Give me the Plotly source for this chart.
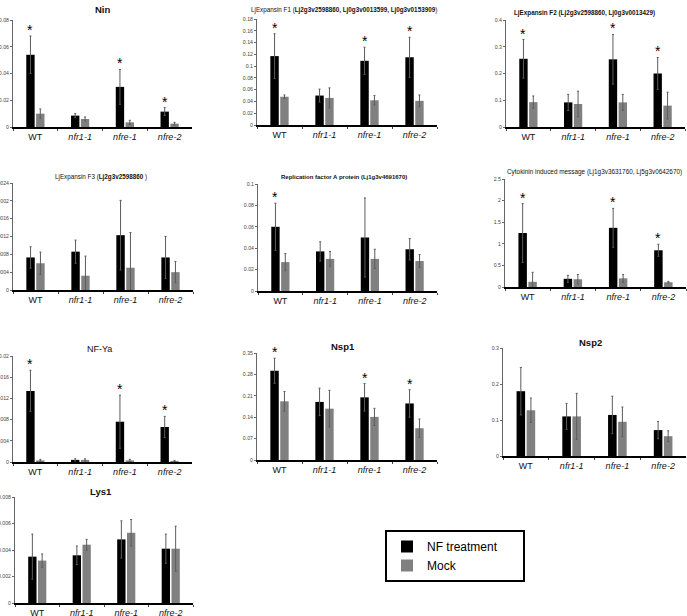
import plotly.graph_objects as go

W, H = 687, 616

categories = ["WT", "nfr1-1", "nfre-1", "nfre-2"]
cat_labels = ["WT", "<i>nfr1-1</i>", "<i>nfre-1</i>", "<i>nfre-2</i>"]

# ---- data (mean, error) per gene ----
nin_nf = [0.054, 0.0085, 0.030, 0.0115]
nin_nf_err = [0.014, 0.0015, 0.013, 0.003]
nin_mock = [0.010, 0.006, 0.0035, 0.0025]
nin_mock_err = [0.0035, 0.0015, 0.0015, 0.001]
nin_star = [1, 0, 1, 1]

f1_nf = [0.117, 0.050, 0.109, 0.115]
f1_nf_err = [0.038, 0.011, 0.023, 0.034]
f1_mock = [0.048, 0.046, 0.042, 0.041]
f1_mock_err = [0.003, 0.017, 0.008, 0.010]
f1_star = [1, 0, 1, 1]

f2_nf = [0.255, 0.092, 0.253, 0.200]
f2_nf_err = [0.072, 0.030, 0.093, 0.060]
f2_mock = [0.093, 0.086, 0.092, 0.080]
f2_mock_err = [0.023, 0.048, 0.030, 0.050]
f2_star = [1, 0, 1, 1]

f3_nf = [0.00073, 0.00086, 0.00123, 0.00073]
f3_nf_err = [0.00024, 0.00026, 0.00078, 0.00047]
f3_mock = [0.00060, 0.00032, 0.00050, 0.00040]
f3_mock_err = [0.00025, 0.00044, 0.00079, 0.00024]
f3_star = [0, 0, 0, 0]

rfa_nf = [0.060, 0.037, 0.050, 0.039]
rfa_nf_err = [0.022, 0.009, 0.037, 0.010]
rfa_mock = [0.027, 0.030, 0.030, 0.028]
rfa_mock_err = [0.008, 0.007, 0.009, 0.006]
rfa_star = [1, 0, 0, 0]

cyt_nf = [1.25, 0.19, 1.37, 0.85]
cyt_nf_err = [0.68, 0.08, 0.45, 0.14]
cyt_mock = [0.12, 0.18, 0.20, 0.11]
cyt_mock_err = [0.22, 0.11, 0.09, 0.02]
cyt_star = [1, 0, 1, 1]

nfya_nf = [0.0134, 0.0004, 0.0076, 0.0066]
nfya_nf_err = [0.0039, 0.0002, 0.0050, 0.0020]
nfya_mock = [0.0003, 0.0004, 0.0003, 0.0002]
nfya_mock_err = [0.0002, 0.0002, 0.0002, 0.0001]
nfya_star = [1, 0, 1, 1]

nsp1_nf = [0.292, 0.190, 0.205, 0.185]
nsp1_nf_err = [0.041, 0.045, 0.045, 0.045]
nsp1_mock = [0.192, 0.168, 0.141, 0.104]
nsp1_mock_err = [0.032, 0.060, 0.028, 0.030]
nsp1_star = [1, 0, 1, 1]

nsp2_nf = [0.180, 0.110, 0.114, 0.072]
nsp2_nf_err = [0.066, 0.036, 0.052, 0.024]
nsp2_mock = [0.127, 0.110, 0.095, 0.055]
nsp2_mock_err = [0.034, 0.064, 0.041, 0.015]
nsp2_star = [0, 0, 0, 0]

lys1_nf = [0.0035, 0.0036, 0.0048, 0.0041]
lys1_nf_err = [0.0017, 0.0007, 0.0014, 0.0011]
lys1_mock = [0.0032, 0.0044, 0.0053, 0.0041]
lys1_mock_err = [0.0005, 0.0004, 0.0010, 0.0017]
lys1_star = [0, 0, 0, 0]

# tick labels per panel
nin_ticks = ["0", "0.02", "0.04", "0.06", "0.08"]
f1_ticks = ["0", "0.02", "0.04", "0.06", "0.08", "0.1", "0.12", "0.14", "0.16", "0.18"]
f2_ticks = ["0", "0.1", "0.2", "0.3", "0.4"]
f3_ticks = ["0", "0.0004", "0.0008", "0.0012", "0.0016", "0.002", "0.0024"]
rfa_ticks = ["0", "0.02", "0.04", "0.06", "0.08", "0.1"]
cyt_ticks = ["0", "0.5", "1", "1.5", "2", "2.5"]
nfya_ticks = ["0", "0.004", "0.008", "0.012", "0.016", "0.02"]
nsp1_ticks = ["0", "0.07", "0.14", "0.21", "0.28", "0.35"]
nsp2_ticks = ["0", "0.1", "0.2", "0.3"]
lys1_ticks = ["0", "0.002", "0.004", "0.006", "0.008"]

series_names = ["NF treatment", "Mock"]

# panel layout: (x0, x1, ytop, ybase) in pixels, title, title center px, title size
panels = [
    dict(nf=nin_nf, nfe=nin_nf_err, mk=nin_mock, mke=nin_mock_err, star=nin_star, ticks=nin_ticks,
         box=(13, 192, 20, 127), title="<b>Nin</b>", tpos=(103, 9), tsize=9.5),
    dict(nf=f1_nf, nfe=f1_nf_err, mk=f1_mock, mke=f1_mock_err, star=f1_star, ticks=f1_ticks,
         box=(257, 437, 19, 125),
         title="LjExpansin F1 (<b>Lj2g3v2598860, Lj0g3v0013599, Lj0g3v0153909</b>)",
         tpos=(344, 10), tsize=6.3),
    dict(nf=f2_nf, nfe=f2_nf_err, mk=f2_mock, mke=f2_mock_err, star=f2_star, ticks=f2_ticks,
         box=(506, 685, 20, 127), title="<b>LjExpansin F2 (Lj2g3v2598860, Lj0g3v0013429)</b>",
         tpos=(584, 13), tsize=6.3),
    dict(nf=f3_nf, nfe=f3_nf_err, mk=f3_mock, mke=f3_mock_err, star=f3_star, ticks=f3_ticks,
         box=(13, 193, 183, 290), title="LjExpansin F3 (<b>Lj2g3v2598860</b> )",
         tpos=(101, 177), tsize=6.3),
    dict(nf=rfa_nf, nfe=rfa_nf_err, mk=rfa_mock, mke=rfa_mock_err, star=rfa_star, ticks=rfa_ticks,
         box=(258, 437, 184, 291), title="<b>Replication factor A protein (Lj1g3v4691670)</b>",
         tpos=(344, 177), tsize=6.0),
    dict(nf=cyt_nf, nfe=cyt_nf_err, mk=cyt_mock, mke=cyt_mock_err, star=cyt_star, ticks=cyt_ticks,
         box=(505, 686, 179, 287),
         title="Cytokinin induced message (Lj1g3v3631760, Lj5g3v0642670)",
         tpos=(594, 172), tsize=6.4),
    dict(nf=nfya_nf, nfe=nfya_nf_err, mk=nfya_mock, mke=nfya_mock_err, star=nfya_star, ticks=nfya_ticks,
         box=(13, 192, 356, 462), title="NF-Ya", tpos=(100, 349), tsize=9),
    dict(nf=nsp1_nf, nfe=nsp1_nf_err, mk=nsp1_mock, mke=nsp1_mock_err, star=nsp1_star, ticks=nsp1_ticks,
         box=(257, 437, 353, 460), title="<b>Nsp1</b>", tpos=(343, 346), tsize=9.5),
    dict(nf=nsp2_nf, nfe=nsp2_nf_err, mk=nsp2_mock, mke=nsp2_mock_err, star=nsp2_star, ticks=nsp2_ticks,
         box=(503, 686, 348, 456), title="<b>Nsp2</b>", tpos=(590, 342), tsize=9.5),
    dict(nf=lys1_nf, nfe=lys1_nf_err, mk=lys1_mock, mke=lys1_mock_err, star=lys1_star, ticks=lys1_ticks,
         box=(15, 193, 497, 603), title="<b>Lys1</b>", tpos=(101, 491), tsize=9.5),
]

FONT = "Liberation Sans, Arial, sans-serif"
BLACK = "#000000"
GRAY = "#808080"
ERR = "#5c5c5c"

BARGAP = 0.56
fig = go.Figure()
annotations = []

for i, p in enumerate(panels):
    n = "" if i == 0 else str(i + 1)
    xa, ya = "x" + n, "y" + n
    x0, x1, yt, yb = p["box"]
    tickvals = [float(t) for t in p["ticks"]]
    ymax = tickvals[-1]

    fig.add_trace(go.Bar(
        x=categories, y=p["nf"], name=series_names[0] + "\u00a0" * 6, xaxis=xa, yaxis=ya,
        marker=dict(color=BLACK, line=dict(width=0)),
        error_y=dict(type="data", array=p["nfe"], color=ERR, thickness=1, width=1),
        showlegend=(i == 0), legendgroup="nf"))
    fig.add_trace(go.Bar(
        x=categories, y=p["mk"], name=series_names[1], xaxis=xa, yaxis=ya,
        marker=dict(color=GRAY, line=dict(width=0)),
        error_y=dict(type="data", array=p["mke"], color=ERR, thickness=1, width=1),
        showlegend=(i == 0), legendgroup="mock"))

    dom_x = [x0 / W, x1 / W]
    dom_y = [1 - yb / H, 1 - yt / H]
    fig.layout["xaxis" + n] = dict(
        domain=dom_x, anchor=ya, type="category", automargin=False,
        tickvals=categories, ticktext=cat_labels,
        tickfont=dict(size=9, color="#111", family=FONT),
        showline=True, linecolor=BLACK, linewidth=2,
        ticks="outside", tickson="boundaries", ticklen=2, tickcolor="#444", tickwidth=1,
        showgrid=False, zeroline=False, fixedrange=True)
    fig.layout["yaxis" + n] = dict(
        domain=dom_y, anchor=xa, range=[0, ymax], automargin=False,
        tickvals=tickvals, ticktext=p["ticks"],
        tickfont=dict(size=5.2, color="#444", family=FONT),
        showline=True, linecolor="#666", linewidth=1,
        ticks="outside", ticklen=2, tickcolor="#666", tickwidth=1,
        showgrid=False, zeroline=False, fixedrange=True)

    # significance stars above NF treatment bars
    slot = (1 - BARGAP) / 2
    for k, s in enumerate(p["star"]):
        if s:
            annotations.append(dict(
                x=k - slot / 2, y=p["nf"][k] + p["nfe"][k], xref=xa, yref=ya,
                text="*", showarrow=False, yanchor="bottom", yshift=-4,
                font=dict(size=14, color=BLACK, family=FONT)))

    tx, ty = p["tpos"]
    annotations.append(dict(
        x=tx / W, y=1 - ty / H, xref="paper", yref="paper", text=p["title"],
        showarrow=False, xanchor="center", yanchor="middle",
        font=dict(size=p["tsize"], color="#111", family=FONT)))

fig.update_layout(
    width=W, height=H,
    margin=dict(l=0, r=0, t=0, b=0, autoexpand=False),
    paper_bgcolor="white", plot_bgcolor="white",
    barmode="group", bargap=BARGAP, bargroupgap=0.15,
    font=dict(family=FONT),
    annotations=annotations,
    legend=dict(
        x=385 / W, y=1 - 530 / H, xanchor="left", yanchor="top",
        bordercolor=BLACK, borderwidth=2, bgcolor="white",
        font=dict(size=12, color=BLACK, family=FONT),
        traceorder="grouped", tracegroupgap=0, itemwidth=30),
)

fig.write_html(
    "out.html",
    config={"displayModeBar": False, "staticPlot": True},
    post_script="document.body.style.margin='0px';document.body.style.overflow='hidden';",
)
